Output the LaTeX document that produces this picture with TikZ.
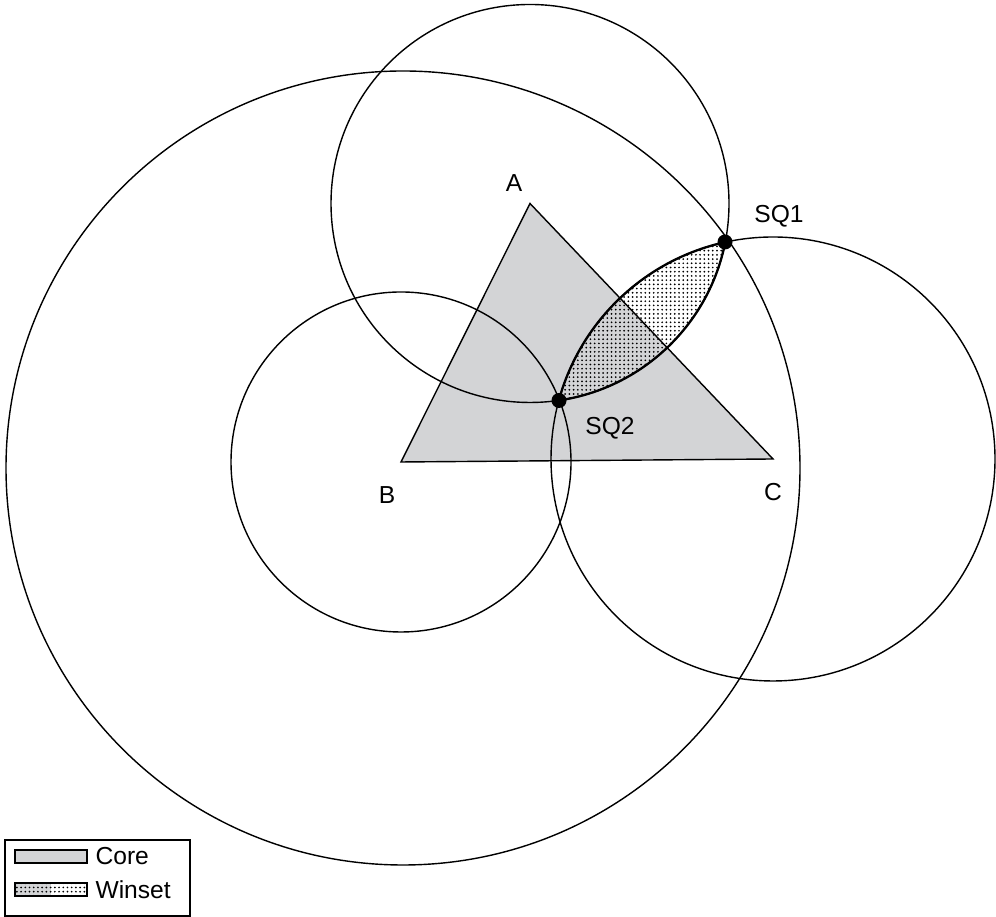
\documentclass[tikz,border=0pt]{standalone}
\usepackage{fontspec}
\setmainfont{Liberation Sans}
\usetikzlibrary{patterns.meta}
\definecolor{coregray}{RGB}{211,212,214}

\begin{document}
\begin{tikzpicture}[line width=0.8pt,
    every node/.style={font=\fontsize{14}{17}\selectfont},
    winset/.style={pattern={Dots[distance=2.4pt,radius=0.55pt]}, pattern color=black}]
  \useasboundingbox (0,0) rectangle (19.92,18.34);

  % ideal points and status quo points
  \coordinate (a) at (10.60,14.27);
  \coordinate (b) at (8.02,9.10);
  \coordinate (c) at (15.46,9.16);
  \coordinate (sq1) at (14.50,13.50);
  \coordinate (sq2) at (11.18,10.33);

  % core
  \draw[fill=coregray] (a) -- (b) -- (c) -- cycle;

  % winset = inside both circles of A and C
  \begin{scope}
    \clip (a) circle (3.98cm);
    \fill[winset] (c) circle (4.44cm);
  \end{scope}

  % indifference circles
  \draw (a) circle (3.98cm);
  \draw (b) circle (3.40cm);
  \draw (c) circle (4.44cm);
  \draw (8.06,8.98) circle (7.94cm);

  % lens outline a bit heavier
  \begin{scope}
    \clip (a) circle (3.98cm);
    \draw[line width=1.3pt] (c) circle (4.44cm);
  \end{scope}
  \begin{scope}
    \clip (c) circle (4.44cm);
    \draw[line width=1.3pt] (a) circle (3.98cm);
  \end{scope}

  \fill (sq1) circle (0.15);
  \fill (sq2) circle (0.15);

  % labels
  \node (la) at (10.28,14.68) {A};
  \node (lb) at (7.74,8.44) {B};
  \node (lc) at (15.46,8.50) {C};
  \node (lsq1) at (15.58,14.02) {SQ1};
  \node (lsq2) at (12.20,9.78) {SQ2};

  % legend
  \draw[line width=0.6pt] (0.10,0.02) rectangle (3.80,1.54);
  \draw[fill=coregray] (0.30,1.08) rectangle (1.74,1.34);
  \node[right] (core) at (1.78,1.21) {Core};
  \fill[coregray] (0.30,0.42) rectangle (1.02,0.68);
  \draw[winset] (0.30,0.42) rectangle (1.74,0.68);
  \node[right] (win) at (1.78,0.55) {Winset};
\end{tikzpicture}
\end{document}
